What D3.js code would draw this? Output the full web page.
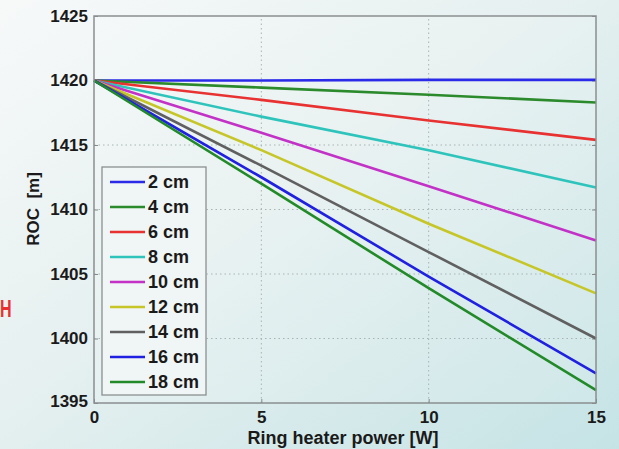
<!DOCTYPE html>
<html><head><meta charset="utf-8">
<script src="https://cdn.jsdelivr.net/npm/d3@7"></script>
<style>
html,body{margin:0;padding:0;overflow:hidden;}
svg{display:block;}
</style></head>
<body>
<svg id="chart" width="619" height="449"></svg>
<script>
// ---- data ----
const power = [0, 5, 10, 15];
const labels = ["2 cm","4 cm","6 cm","8 cm","10 cm","12 cm","14 cm","16 cm","18 cm"];
const roc2  = [1420, 1420.0, 1420.05, 1420.05];
const roc4  = [1420, 1419.45, 1418.9, 1418.3];
const roc6  = [1420, 1418.5, 1416.9, 1415.4];
const roc8  = [1420, 1417.2, 1414.6, 1411.7];
const roc10 = [1420, 1415.95, 1411.8, 1407.6];
const roc12 = [1420, 1414.6, 1408.9, 1403.5];
const roc14 = [1420, 1413.4, 1406.7, 1400.0];
const roc16 = [1420, 1412.5, 1404.8, 1397.3];
const roc18 = [1420, 1412.0, 1403.9, 1396.0];
const seriesValues = [roc2, roc4, roc6, roc8, roc10, roc12, roc14, roc16, roc18];
const colors = ["#2a2ae8","#2b8a2b","#e83232","#2ec4bc","#c232c6","#c6c628","#606060","#2020e0","#228a28"];
const xTicks = [0, 5, 10, 15];
const yTicks = [1395, 1400, 1405, 1410, 1415, 1420, 1425];

const svg = d3.select("#chart");
const W = 619, H = 449;
const m = {left: 94, right: 23, top: 16, bottom: 46};
const FONT = "'Liberation Sans', Arial, sans-serif";

// background gradient
const defs = svg.append("defs");
const g0 = defs.append("linearGradient").attr("id","bg").attr("x1","0").attr("y1","0").attr("x2","1").attr("y2","1");
g0.append("stop").attr("offset","0").attr("stop-color","#f7f9f9");
g0.append("stop").attr("offset","0.45").attr("stop-color","#e6f0f0");
g0.append("stop").attr("offset","1").attr("stop-color","#c5e3e5");
svg.append("rect").attr("width",W).attr("height",H).attr("fill","url(#bg)");

const x = d3.scaleLinear().domain([0,15]).range([m.left, W - m.right]);
const y = d3.scaleLinear().domain([1395,1425]).range([H - m.bottom, m.top]);

// faint plot fill
svg.append("rect").attr("x",x(0)).attr("y",y(1425)).attr("width",x(15)-x(0)).attr("height",y(1395)-y(1425))
  .attr("fill","#ffffff").attr("fill-opacity",0.12);

// grid
const grid = svg.append("g").attr("stroke","#a8b4b4").attr("stroke-width",1).attr("stroke-dasharray","1.5,3");
grid.selectAll("line.v").data(xTicks.slice(1,-1)).join("line")
  .attr("x1",d=>x(d)).attr("x2",d=>x(d)).attr("y1",y(1395)).attr("y2",y(1425));
grid.selectAll("line.h").data(yTicks.slice(1,-1)).join("line")
  .attr("y1",d=>y(d)).attr("y2",d=>y(d)).attr("x1",x(0)).attr("x2",x(15));

// axes (ticks inside)
const axisStyle = g => {
  g.select(".domain").remove();
  g.selectAll(".tick line").attr("stroke","#888");
  g.selectAll(".tick text").attr("fill","#1a1a1a").attr("font-family",FONT)
    .attr("font-weight","bold").attr("font-size","17px");
};
svg.append("g").attr("transform",`translate(0,${y(1395)})`)
  .call(d3.axisBottom(x).tickValues(xTicks).tickFormat(d3.format("d")).tickSizeInner(-4).tickSizeOuter(0).tickPadding(8))
  .call(axisStyle);
svg.append("g").attr("transform",`translate(${x(0)},0)`)
  .call(d3.axisLeft(y).tickValues(yTicks).tickFormat(d3.format("d")).tickSizeInner(-4).tickSizeOuter(0).tickPadding(6))
  .call(axisStyle)
  .call(g => g.selectAll(".tick text").filter(d => d===1395).attr("dy","0.2em"));
svg.append("g").attr("transform",`translate(${x(15)},0)`)
  .call(d3.axisRight(y).tickValues(yTicks).tickFormat("").tickSizeInner(-4).tickSizeOuter(0))
  .call(axisStyle);

// lines
const line = d3.line().x((d,i)=>x(power[i])).y(d=>y(d));
svg.append("g").selectAll("path").data(seriesValues).join("path")
  .attr("d", d=>line(d)).attr("fill","none").attr("stroke",(d,i)=>colors[i]).attr("stroke-width",2.6);

// frame
svg.append("rect").attr("x",x(0)).attr("y",y(1425)).attr("width",x(15)-x(0)).attr("height",y(1395)-y(1425))
  .attr("fill","none").attr("stroke","#8a8f90").attr("stroke-width",1.5);

// legend
const lg = svg.append("g");
lg.append("rect").attr("x",102).attr("y",167).attr("width",104).attr("height",228)
  .attr("fill","#f0f5f5").attr("stroke","#8a8f90").attr("stroke-width",1.3);
const items = lg.selectAll("g.it").data(labels).join("g").attr("transform",(d,i)=>`translate(0,${182 + i*25})`);
items.append("line").attr("x1",110).attr("x2",145).attr("y1",0).attr("y2",0)
  .attr("stroke",(d,i)=>colors[i]).attr("stroke-width",2.6);
items.append("text").attr("x",148).attr("y",0).attr("dy","0.36em").text(d=>d)
  .attr("font-family",FONT).attr("font-weight","bold").attr("font-size","18px").attr("fill","#1a1a1a");

// axis titles
svg.append("text").attr("x",343).attr("y",444).attr("text-anchor","middle")
  .attr("font-family",FONT).attr("font-weight","bold").attr("font-size","18px").attr("fill","#1a1a1a")
  .text("Ring heater power [W]");
svg.append("text").attr("transform","translate(39,209) rotate(-90)").attr("text-anchor","middle")
  .attr("font-family",FONT).attr("font-weight","bold").attr("font-size","17px").attr("fill","#1a1a1a")
  .attr("xml:space","preserve").text("ROC  [m]");

// red letter at left edge (partially visible slide text in the reference)
svg.append("text").attr("transform","translate(0,317) scale(0.7,1)").attr("font-family",FONT)
  .attr("font-weight","bold").attr("font-size","23px").attr("fill","#e83030").text("H");
</script>
</body></html>
